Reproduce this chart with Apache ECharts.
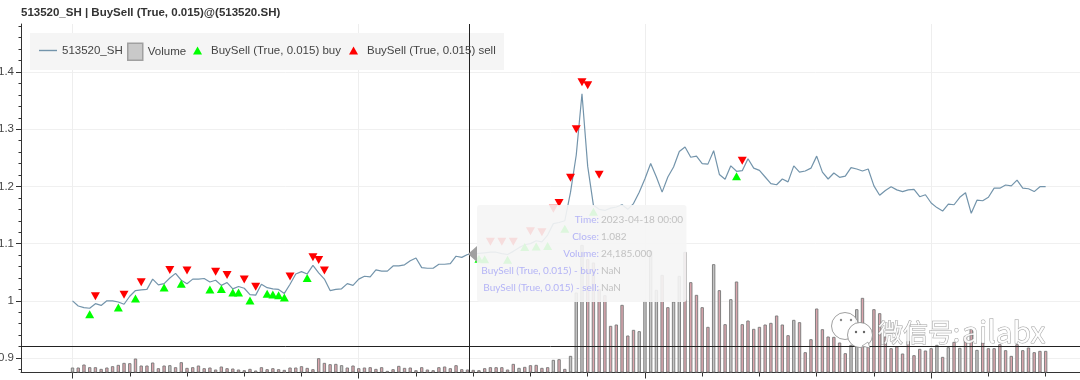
<!DOCTYPE html>
<html>
<head>
<meta charset="utf-8">
<style>html,body{margin:0;padding:0;background:#fff}#c{width:1080px;height:380px}</style>
<script src="https://cdn.jsdelivr.net/npm/echarts@6/dist/echarts.min.js"></script>
</head>
<body>
<div id="c"></div>
<script>
const titleText = '513520_SH | BuySell (True, 0.015)@(513520.SH)';
const nameLine = '513520_SH', nameVol = 'Volume', nameBuy = 'BuySell (True, 0.015) buy', nameSell = 'BuySell (True, 0.015) sell';

const closes = [
1.000,.991,.988,.987,.995,.992,1.0,1.0,.998,.994,1.008,1.018,1.019,1.02,1.038,1.028,1.03,1.04,1.048,1.036,
1.03,1.038,1.038,1.039,1.033,1.036,1.027,1.032,1.021,1.025,1.022,1.011,1.01,1.029,1.023,1.021,1.02,1.013,1.029,1.047,
1.051,1.047,1.062,1.049,1.038,1.018,1.02,1.021,1.03,1.027,1.038,1.043,1.042,1.054,1.052,1.052,1.061,1.061,1.063,1.07,
1.075,1.058,1.057,1.057,1.064,1.064,1.065,1.078,1.076,1.081,1.082,1.083,1.084,1.085,1.085,1.0825,1.081,1.0865,1.093,1.098,
1.10,1.105,1.103,1.115,1.135,1.137,1.14,1.19,1.255,1.362,1.235,1.167,1.16,1.158,1.162,1.164,1.168,1.16,1.17,1.19,
1.2135,1.24,1.2165,1.19,1.2165,1.234,1.261,1.269,1.251,1.253,1.24,1.239,1.2625,1.221,1.2125,1.236,1.2265,1.2275,1.2485,1.232,
1.228,1.2165,1.205,1.203,1.213,1.208,1.236,1.225,1.227,1.232,1.253,1.225,1.213,1.2235,1.216,1.218,1.233,1.2305,1.227,1.2305,
1.201,1.1845,1.193,1.1995,1.194,1.191,1.194,1.195,1.182,1.1855,1.171,1.163,1.157,1.169,1.168,1.181,1.189,1.153,1.176,1.175,
1.181,1.197,1.197,1.2025,1.201,1.211,1.197,1.196,1.191,1.1995,1.1995];

const volumesM = [
45,45,72,48,48,33,45,57,69,87,84,126,63,63,90,39,63,66,48,93,42,48,63,39,45,27,54,39,36,27,21,33,18,48,30,39,30,24,45,45,
57,42,30,129,87,75,78,66,45,63,39,
45,48,33,48,15,30,60,42,45,21,48,27,21,48,54,39,66,30,27,24.185,21,39,48,48,48,27,78,42,51,66,69,42,48,114,120,33,150,
720,1149,1020,990,750,696,420,432,609,333,384,372,645,1095,744,879,588,639,870,1086,813,699,588,411,975,741,
435,660,819,435,468,393,411,432,447,513,432,336,474,453,183,300,576,390,324,321,270,174,249,570,672,234,570,534,324,219,
234,171,285,156,213,198,219,249,141,228,276,222,330,393,204,273,219,219,255,201,150,255,201,225,183,195,195];

const greyVolumeBars = [0,17,47,78,84,87,88,89,99,100,101,102,105,106,112,115,126,136,137,151,153,155,158];

const buyIndex = [3,8,11,16,19,24,26,28,29,31,34,35,36,37,41,71,72,76,79,81,83,86,91,116];
const buyValue = [.9766,.9883,1.0041,1.0234,1.0298,1.0199,1.0205,1.0146,1.0146,1.0006,1.0123,1.0111,1.0099,1.0058,1.0398,1.0737,1.0725,1.072,1.094,1.095,1.096,1.126,1.1556,1.2177];
const sellIndex = [4,9,12,17,20,25,27,30,32,38,42,43,44,73,75,77,80,82,84,85,87,88,89,90,92,117];
const sellValue = [1.0082,1.0105,1.0327,1.0538,1.0532,1.0509,1.045,1.0374,1.0246,1.0427,1.076,1.0713,1.0532,1.1035,1.1035,1.1035,1.1216,1.12,1.161,1.171,1.2153,1.2998,1.382,1.3767,1.2206,1.245];

const yTickLabels = [0.9, 1.0, 1.1, 1.2, 1.3, 1.4];
const yMinorTicks = [0.88,0.92,0.94,0.96,0.98,1.02,1.04,1.06,1.08,1.12,1.14,1.16,1.18,1.22,1.24,1.26,1.28,1.32,1.34,1.36,1.38,1.42,1.44,1.46,1.48];

const crossX = 69.4, crossY = 0.9245;
const tipLabels = ['Time:', 'Close:', 'Volume:', 'BuySell (True, 0.015) - buy:', 'BuySell (True, 0.015) - sell:'];
const tipValues = ['2023-04-18 00:00', '1.082', '24,185.000', 'NaN', 'NaN'];

const lead = 9, trail = 6;
const categories = [];
for (let i = -lead; i <= closes.length - 1 + trail; i++) categories.push(String(i));
const FONT = '"Liberation Sans", Arial, sans-serif';
const tickEvery = (n) => (idx) => (idx - lead) % n === 0;

function legendAt(left, top, name, w, h, gap, extra) {
  return { left, top, padding: 0, symbolRotate: 0, selectedMode: false, z: 6, itemWidth: w, itemHeight: h,
    data: [Object.assign({ name }, extra || {})],
    textStyle: { fontFamily: FONT, fontSize: 11.5, color: '#444', padding: [0, 0, 0, gap] } };
}

const tipGraphic = [];
tipGraphic.push({ type: 'rect', z: 100, shape: { x: 477, y: 205, width: 209.5, height: 97, r: 3 }, style: { fill: 'rgba(245,245,245,0.9)' } });
tipGraphic.push({ type: 'polygon', z: 100, shape: { points: [[468, 254], [477, 246], [477, 262]] }, style: { fill: '#a0a0a0' } });
tipLabels.forEach((t, k) => {
  const y = 220 + k * 17;
  tipGraphic.push({ type: 'text', z: 101, style: { x: 599, y, text: t, align: 'right', verticalAlign: 'middle', fill: '#b4b4f6', font: '10px Lato, sans-serif' } });
  tipGraphic.push({ type: 'text', z: 101, style: { x: 601, y, text: tipValues[k], align: 'left', verticalAlign: 'middle', fill: '#c2c2c2', font: '10px Lato, sans-serif' } });
});

const wmStroke = 'rgba(120,120,120,0.7)';
const watermark = [
  { type: 'circle', z: 90, shape: { cx: 845, cy: 326, r: 13.5 }, style: { fill: 'rgba(255,255,255,0.92)', stroke: wmStroke, lineWidth: 1 } },
  { type: 'circle', z: 91, shape: { cx: 860, cy: 335, r: 12.5 }, style: { fill: '#fff', stroke: wmStroke, lineWidth: 1 } },
  { type: 'polygon', z: 91, shape: { points: [[862, 346], [870, 348], [868, 342]] }, style: { fill: '#fff', stroke: wmStroke, lineWidth: 0.8 } },
  { type: 'circle', z: 92, shape: { cx: 856, cy: 332, r: 1.2 }, style: { fill: '#666' } },
  { type: 'circle', z: 92, shape: { cx: 864, cy: 332, r: 1.2 }, style: { fill: '#666' } },
  { type: 'circle', z: 92, shape: { cx: 841, cy: 320, r: 1.2 }, style: { fill: '#888' } },
  { type: 'circle', z: 92, shape: { cx: 851, cy: 320, r: 1.2 }, style: { fill: '#888' } },
  { type: 'text', z: 92, style: { x: 878, y: 332, text: '微信号:', verticalAlign: 'middle', fill: 'rgba(255,255,255,0.9)', stroke: wmStroke, lineWidth: 1, font: '25px "Noto Sans CJK SC", sans-serif' } },
  { type: 'text', z: 92, style: { x: 962, y: 332, text: 'ailabx', verticalAlign: 'middle', fill: 'rgba(255,255,255,0.9)', stroke: wmStroke, lineWidth: 1, font: '30px "Noto Sans CJK SC", sans-serif' } }
];

const chart = echarts.init(document.getElementById('c'), null, { renderer: 'canvas' });
chart.setOption({
  animation: false,
  backgroundColor: '#fff',
  title: { text: titleText, left: 21, top: 7, padding: 0, textStyle: { fontFamily: FONT, fontSize: 11.5, fontWeight: 'bold', color: '#333' } },
  grid: { left: 21, right: 0, top: 24, bottom: 7.5, containLabel: false, outerBoundsMode: 'none' },
  legend: [
    legendAt(39, 44.5, nameLine, 18, 1.4, 0, { icon: 'rect', itemStyle: { color: '#7394ab', borderWidth: 0 } }),
    legendAt(127, 42.5, nameVol, 15, 17, 0, { icon: 'rect', itemStyle: { color: '#c9c9c9', borderColor: '#a0a0a0', borderWidth: 1.5 } }),
    legendAt(193, 44.5, nameBuy, 9, 8, 4, { icon: 'triangle' }),
    legendAt(349, 44.5, nameSell, 9, 8, 4, { icon: 'triangle' })
  ],
  graphic: [{ type: 'rect', z: 1, shape: { x: 30, y: 33, width: 474, height: 37 }, style: { fill: '#f5f5f5' } }].concat(watermark, tipGraphic),
  xAxis: [
    { type: 'category', data: categories, boundaryGap: false,
      axisLine: { onZero: false, lineStyle: { color: '#333', width: 1 } },
      axisTick: { interval: tickEvery(10), length: 4, lineStyle: { color: '#333' } },
      axisLabel: { show: false }, splitLine: { show: false } },
    { type: 'category', data: categories, boundaryGap: false, position: 'bottom',
      axisLine: { show: false, onZero: false },
      axisTick: { interval: tickEvery(50), length: 6, lineStyle: { color: '#333' } },
      axisLabel: { show: false },
      splitLine: { show: true, interval: tickEvery(50), lineStyle: { color: '#eeeeee', width: 1 } } },
    { type: 'value', show: false, min: -lead + 0.08, max: closes.length - 1 + trail + 0.14, axisLine: { onZero: false } }
  ],
  yAxis: [
    { type: 'value', min: 0.8747, max: 1.484,
      axisLine: { show: true, onZero: false, lineStyle: { color: '#333' } },
      axisTick: { show: true, length: 5, customValues: yTickLabels, lineStyle: { color: '#333' } },
      axisLabel: { margin: 7, customValues: yTickLabels, fontFamily: FONT, fontSize: 11.5, color: '#444',
        formatter: (v) => String(Math.round(v * 10) / 10) },
      splitLine: { show: true, lineStyle: { color: '#f0f0f0', width: 1 } } },
    { type: 'value', min: 0, max: 3136, show: false, axisLine: { onZero: false }, splitLine: { show: false } },
    { type: 'value', min: 0.8747, max: 1.484, position: 'left',
      axisLine: { show: false, onZero: false },
      axisTick: { show: true, length: 2.5, customValues: yMinorTicks, lineStyle: { color: '#333' } },
      axisLabel: { show: false }, splitLine: { show: false } }
  ],
  series: [
    { name: nameVol, type: 'bar', xAxisIndex: 0, yAxisIndex: 1, barWidth: 3.4, z: 2,
      itemStyle: { color: '#c9c9c9', borderColor: '#808080', borderWidth: 1 },
      data: volumesM.map((v, i) => ({ value: [categories[i + lead], v],
        itemStyle: { color: greyVolumeBars.includes(i) ? '#c4c4c4' : '#dca6ae', borderColor: '#808080', borderWidth: 1 } })) },
    { name: nameLine, type: 'line', xAxisIndex: 0, yAxisIndex: 0, symbol: 'none', z: 3,
      lineStyle: { color: '#7394ab', width: 1.2 }, itemStyle: { color: '#7394ab' },
      data: closes.map((v, i) => [categories[i + lead], v]) },
    { name: nameBuy, type: 'scatter', xAxisIndex: 0, yAxisIndex: 0, symbol: 'triangle', symbolSize: [9, 8], z: 4,
      itemStyle: { color: '#00ff00', opacity: 1 }, data: buyIndex.map((x, k) => [categories[x + lead], buyValue[k]]) },
    { name: nameSell, type: 'scatter', xAxisIndex: 0, yAxisIndex: 0, symbol: 'triangle', symbolRotate: 180, symbolSize: [9, 8], z: 4,
      itemStyle: { color: '#ff0000', opacity: 1 }, data: sellIndex.map((x, k) => [categories[x + lead], sellValue[k]]) },
    { name: 'crosshair', type: 'scatter', xAxisIndex: 2, yAxisIndex: 0, symbolSize: 0, z: 5, data: [[crossX, crossY]], silent: true,
      markLine: { silent: true, symbol: 'none', animation: false, label: { show: false }, z: 5,
        lineStyle: { color: '#222', width: 1, type: 'solid' },
        data: [{ xAxis: crossX }, { yAxis: crossY }] } }
  ]
});
</script>
</body>
</html>
